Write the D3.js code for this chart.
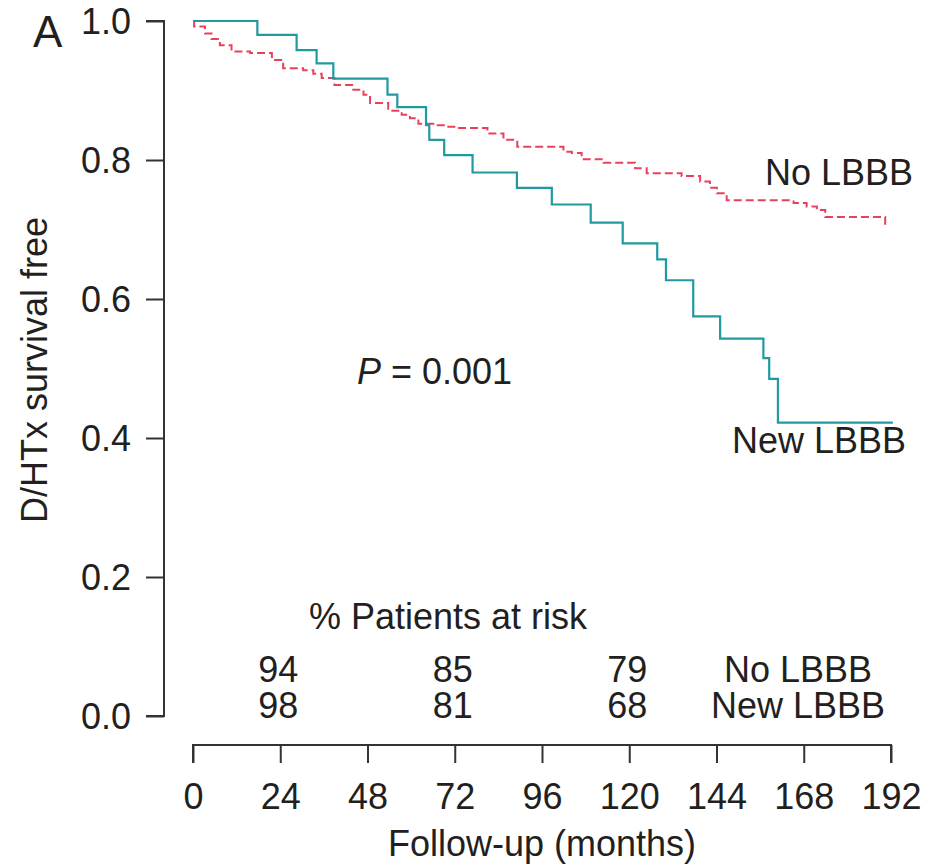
<!DOCTYPE html>
<html>
<head>
<meta charset="utf-8">
<script src="https://cdn.jsdelivr.net/npm/d3@7"></script>
<style>
  body { margin: 0; background: #fff; }
  svg text { font-family: "Liberation Sans", Arial, sans-serif; fill: #231f20; }
</style>
</head>
<body>
<svg id="chart" width="936" height="866"></svg>
<script>
// Kaplan-Meier steps: [month, survival]
const noLbbb = [
  [0, 1.0], [0.3, 0.992], [3.3, 0.982], [5.1, 0.974], [7.4, 0.965], [10.6, 0.956],
  [15.7, 0.954], [21.7, 0.944], [24.8, 0.932], [30.3, 0.929], [33.1, 0.924],
  [35.4, 0.918], [38.9, 0.908], [44.1, 0.901], [46.9, 0.894], [48.7, 0.882],
  [53.7, 0.871], [57.4, 0.865], [59.7, 0.860], [62.0, 0.852], [66.1, 0.850],
  [69.3, 0.848], [72.5, 0.846], [81.0, 0.838], [85.4, 0.829], [89.2, 0.819],
  [101.9, 0.812], [104.2, 0.810], [106.9, 0.801], [112.9, 0.796], [121.6, 0.788],
  [124.8, 0.781], [134.4, 0.777], [139.5, 0.769], [142.2, 0.760], [144.1, 0.752],
  [146.8, 0.742], [165.2, 0.738], [168.8, 0.733], [171.6, 0.728], [173.9, 0.718],
  [190.4, 0.718], [190.4, 0.704]
];
const newLbbb = [
  [0, 1.0], [17.7, 0.980], [28.5, 0.958], [34.0, 0.939], [38.6, 0.917],
  [53.5, 0.894], [56.2, 0.876], [64.1, 0.850], [65.0, 0.829], [69.1, 0.807],
  [76.9, 0.782], [89.1, 0.760], [98.7, 0.736], [109.4, 0.710], [118.2, 0.680],
  [127.7, 0.657], [130.1, 0.627], [137.6, 0.575], [145.0, 0.543], [156.9, 0.515],
  [158.5, 0.485], [160.9, 0.422], [192.5, 0.422]
];
const xTicks = [0, 24, 48, 72, 96, 120, 144, 168, 192];
const yTicks = [0, 0.2, 0.4, 0.6, 0.8, 1.0];
const riskMonths = [24, 72, 120];
const riskNo = [94, 85, 79];
const riskNew = [98, 81, 68];

const svg = d3.select('#chart');
const x = d3.scaleLinear().domain([0, 192]).range([193, 891]);
const y = d3.scaleLinear().domain([0, 1]).range([716, 21]);

const teal = '#1f9aa0';
const red = '#e8415c';
const fs = 36;

// y axis
const yAxis = svg.append('g')
  .attr('transform', 'translate(164,0)')
  .call(d3.axisLeft(y).tickValues(yTicks).tickFormat(d3.format('.1f')).tickSize(18).tickPadding(15));
yAxis.selectAll('text').attr('font-size', fs).attr('dy', '0.36em');

// x axis
const xAxis = svg.append('g')
  .attr('transform', 'translate(0,745)')
  .call(d3.axisBottom(x).tickValues(xTicks).tickSize(18).tickPadding(20));
xAxis.selectAll('text').attr('font-size', fs);

svg.selectAll('.domain, .tick line').attr('stroke', '#333').attr('stroke-width', 2);
yAxis.select('.domain').attr('d', 'M-18,21H0V716H-18');
xAxis.select('.domain').attr('d', 'M193,18V0H891V18');

const line = d3.line().x(d => x(d[0])).y(d => y(d[1])).curve(d3.curveStepAfter);

svg.append('path').datum(noLbbb)
  .attr('d', line).attr('fill', 'none')
  .attr('stroke', red).attr('stroke-width', 2)
  .attr('stroke-dasharray', '8,4');

svg.append('path').datum(newLbbb)
  .attr('d', line).attr('fill', 'none')
  .attr('stroke', teal).attr('stroke-width', 2.2);

// labels
svg.append('text').attr('x', 33).attr('y', 47).attr('font-size', 44).text('A');

svg.append('text')
  .attr('transform', 'translate(47,370) rotate(-90)')
  .attr('text-anchor', 'middle').attr('font-size', fs)
  .text('D/HTx survival free');

svg.append('text')
  .attr('x', x(96)).attr('y', 856).attr('text-anchor', 'middle').attr('font-size', fs)
  .text('Follow-up (months)');

const p = svg.append('text').attr('x', 357).attr('y', 384).attr('font-size', fs);
p.append('tspan').attr('font-style', 'italic').text('P');
p.append('tspan').text(' = 0.001');

svg.append('text').attr('x', 913).attr('y', 185).attr('text-anchor', 'end')
  .attr('font-size', fs).text('No LBBB');
svg.append('text').attr('x', 906).attr('y', 453).attr('text-anchor', 'end')
  .attr('font-size', fs).text('New LBBB');

svg.append('text').attr('x', 448).attr('y', 629).attr('text-anchor', 'middle')
  .attr('font-size', fs).text('% Patients at risk');

svg.append('g').selectAll('text').data(riskNo).join('text')
  .attr('x', (d, i) => x(riskMonths[i]) - 2).attr('y', 682)
  .attr('text-anchor', 'middle').attr('font-size', fs).text(d => d);
svg.append('g').selectAll('text').data(riskNew).join('text')
  .attr('x', (d, i) => x(riskMonths[i]) - 2).attr('y', 718)
  .attr('text-anchor', 'middle').attr('font-size', fs).text(d => d);

svg.append('text').attr('x', 798).attr('y', 682).attr('text-anchor', 'middle')
  .attr('font-size', fs).text('No LBBB');
svg.append('text').attr('x', 798).attr('y', 718).attr('text-anchor', 'middle')
  .attr('font-size', fs).text('New LBBB');
</script>
</body>
</html>
